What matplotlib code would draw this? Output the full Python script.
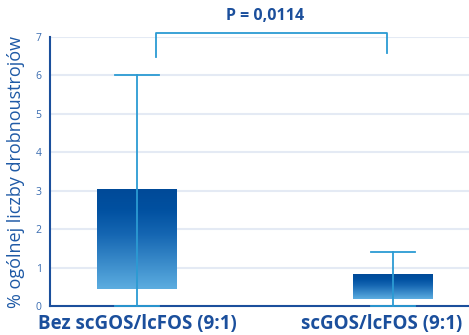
import matplotlib
matplotlib.use("Agg")
import matplotlib.pyplot as plt
import matplotlib.transforms as mtransforms
from matplotlib.colors import LinearSegmentedColormap
import numpy as np

groups = ["Bez scGOS/lcFOS (9:1)", "scGOS/lcFOS (9:1)"]
q1 = [0.45, 0.18]
q3 = [3.05, 0.83]
whisk_lo = [0.0, 0.0]
whisk_hi = [6.0, 1.4]
p_label = "P = 0,0114"
yticks = [0, 1, 2, 3, 4, 5, 6, 7]

plt.rcParams['font.family'] = ['Open Sans', 'DejaVu Sans']

dark = "#1b4f9c"
light_line = "#2b9bd3"
grad = LinearSegmentedColormap.from_list(
    "boxgrad", [(0.0, "#5cade0"), (0.55, "#1566b2"), (0.8, "#0050a0"), (1.0, "#004a98")])

fig = plt.figure(figsize=(4.69, 3.35), dpi=100)
ax = fig.add_axes([50 / 469, 29 / 335, 419 / 469, 269 / 335])

xs = np.arange(len(groups))
w = 0.31
cap = 0.085

for y in yticks[1:]:
    ax.axhline(y, color="#e4eaf4", lw=1.5, zorder=0)

g = np.linspace(0, 1, 256).reshape(-1, 1)
for x, lo, hi, a, b in zip(xs, whisk_lo, whisk_hi, q1, q3):
    ax.imshow(g, cmap=grad, origin="lower", aspect="auto",
              extent=[x - w / 2, x + w / 2, a, b], zorder=2)
    ax.plot([x, x], [lo, hi], color=light_line, lw=1.3, zorder=3, clip_on=False)
    ax.plot([x - cap, x + cap], [hi, hi], color=light_line, lw=1.3, zorder=3)
    ax.plot([x - cap, x + cap], [lo, lo], color=light_line, lw=1.3, zorder=3, clip_on=False)

# significance bracket
ax.plot([0.075, 0.075, 0.977, 0.977], [6.48, 7.1, 7.1, 6.58],
        color=light_line, lw=1.3, clip_on=False, zorder=3)
ax.text(0.5, 7.33, p_label, ha="center", va="bottom", fontsize=11.5,
        fontweight="bold", color=dark)

ax.set_xlim(-0.34, 1.297)
ax.set_ylim(0, 7)
ax.set_yticks(yticks)
ax.tick_params(axis="y", length=0, labelsize=7.5, colors="#3a6cb0", pad=6)
ax.set_xticks(xs)
ax.set_xticklabels(groups, fontsize=13.5, fontweight="bold", color=dark)
ax.tick_params(axis="x", length=0, pad=6)
shift = mtransforms.ScaledTranslation(-11 / 100, 0, fig.dpi_scale_trans)
ax.get_xticklabels()[1].set_transform(ax.get_xticklabels()[1].get_transform() + shift)

ax.set_ylabel("% ogólnej liczby drobnoustrojów", fontsize=13, color="#1f5aa6", labelpad=8)

for s in ["top", "right"]:
    ax.spines[s].set_visible(False)
for s in ["left", "bottom"]:
    ax.spines[s].set_color(dark)
    ax.spines[s].set_linewidth(1.5)

fig.savefig("out.png", dpi=100)
